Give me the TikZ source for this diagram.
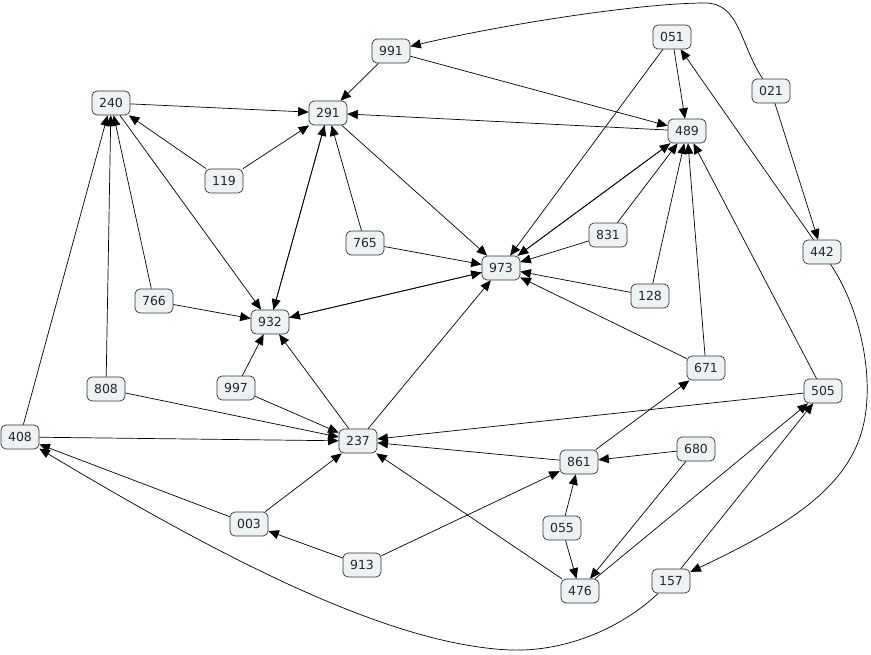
\documentclass[tikz,border=0pt]{standalone}
\usepackage{fontspec}
\setmainfont{DejaVu Sans}
\usetikzlibrary{arrows.meta}
\definecolor{nodefill}{HTML}{EDF2F5}
\definecolor{nodeline}{HTML}{333333}
\begin{document}
\begin{tikzpicture}[x=1pt,y=-1pt,
  nd/.style={draw=nodeline,fill=nodefill,rounded corners=5pt,minimum width=38pt,minimum height=24pt,inner sep=0pt,font=\fontsize{12.5}{14}\selectfont,text=black!85,line width=0.7pt},
  arr/.style={-{Triangle[length=10.5pt,width=9pt]},line width=0.7pt,black}]
\useasboundingbox (0,0) rectangle (871,654);
\node[nd] (n991) at (391,51) {991};
\node[nd] (n051) at (672,37) {051};
\node[nd] (n240) at (111,103) {240};
\node[nd] (n291) at (328,113) {291};
\node[nd] (n021) at (771,91) {021};
\node[nd] (n489) at (687,131) {489};
\node[nd] (n119) at (224,181) {119};
\node[nd] (n765) at (365,243) {765};
\node[nd] (n831) at (608,235) {831};
\node[nd] (n973) at (501,268) {973};
\node[nd] (n442) at (822,252) {442};
\node[nd] (n766) at (154,301) {766};
\node[nd] (n128) at (650,296) {128};
\node[nd] (n932) at (270,322) {932};
\node[nd] (n671) at (706,368) {671};
\node[nd] (n808) at (106,389) {808};
\node[nd] (n997) at (236,388) {997};
\node[nd] (n505) at (823,391) {505};
\node[nd] (n408) at (20,437) {408};
\node[nd] (n237) at (358,441) {237};
\node[nd] (n680) at (696,449) {680};
\node[nd] (n861) at (579,462) {861};
\node[nd] (n003) at (249,524) {003};
\node[nd] (n055) at (562,528) {055};
\node[nd] (n913) at (362,565) {913};
\node[nd] (n476) at (580,591) {476};
\node[nd] (n157) at (671,581) {157};

\draw[arr] (n021) .. controls (740,45) and (740,3) .. (705,3) .. controls (640,3) and (500,25) .. (n991);
\draw[arr] (n021) -- (n442);
\draw[arr] (n991) -- (n291);
\draw[arr] (n991) -- (n489);
\draw[arr] (n051) -- (n489);
\draw[arr] (n051) -- (n973);
\draw[arr] (n442) -- (n051);
\draw[arr] (n442) .. controls (855,300) and (872,360) .. (866,410) .. controls (858,480) and (800,520) .. (n157);
\draw[arr] (n240) -- (n291);
\draw[arr] (n489) -- (n291);
\draw[arr] (n119) -- (n240);
\draw[arr] (n119) -- (n291);
\draw[arr] (n240) -- (n932);
\draw[arr] (n291) -- (n932);
\draw[arr] (n932) -- (n291);
\draw[arr] (n765) -- (n291);
\draw[arr] (n765) -- (n973);
\draw[arr] (n291) -- (n973);
\draw[arr] (n831) -- (n973);
\draw[arr] (n831) -- (n489);
\draw[arr] (n128) -- (n973);
\draw[arr] (n128) -- (n489);
\draw[arr] (n671) -- (n973);
\draw[arr] (n671) -- (n489);
\draw[arr] (n505) -- (n489);
\draw[arr] (n505) -- (n237);
\draw[arr] (n489) -- (n973);
\draw[arr] (n973) -- (n489);
\draw[arr] (n932) -- (n973);
\draw[arr] (n973) -- (n932);
\draw[arr] (n766) -- (n240);
\draw[arr] (n766) -- (n932);
\draw[arr] (n808) -- (n240);
\draw[arr] (n808) -- (n237);
\draw[arr] (n408) -- (n240);
\draw[arr] (n408) -- (n237);
\draw[arr] (n997) -- (n932);
\draw[arr] (n997) -- (n237);
\draw[arr] (n237) -- (n932);
\draw[arr] (n237) -- (n973);
\draw[arr] (n861) -- (n237);
\draw[arr] (n861) -- (n671);
\draw[arr] (n680) -- (n861);
\draw[arr] (n680) -- (n476);
\draw[arr] (n055) -- (n861);
\draw[arr] (n055) -- (n476);
\draw[arr] (n476) -- (n505);
\draw[arr] (n157) -- (n505);
\draw[arr] (n157) .. controls (625,625) and (570,652) .. (510,650) .. controls (400,645) and (250,575) .. (n408);
\draw[arr] (n003) -- (n408);
\draw[arr] (n003) -- (n237);
\draw[arr] (n913) -- (n003);
\draw[arr] (n913) -- (n861);
\draw[arr] (n476) -- (n237);
\end{tikzpicture}
\end{document}
